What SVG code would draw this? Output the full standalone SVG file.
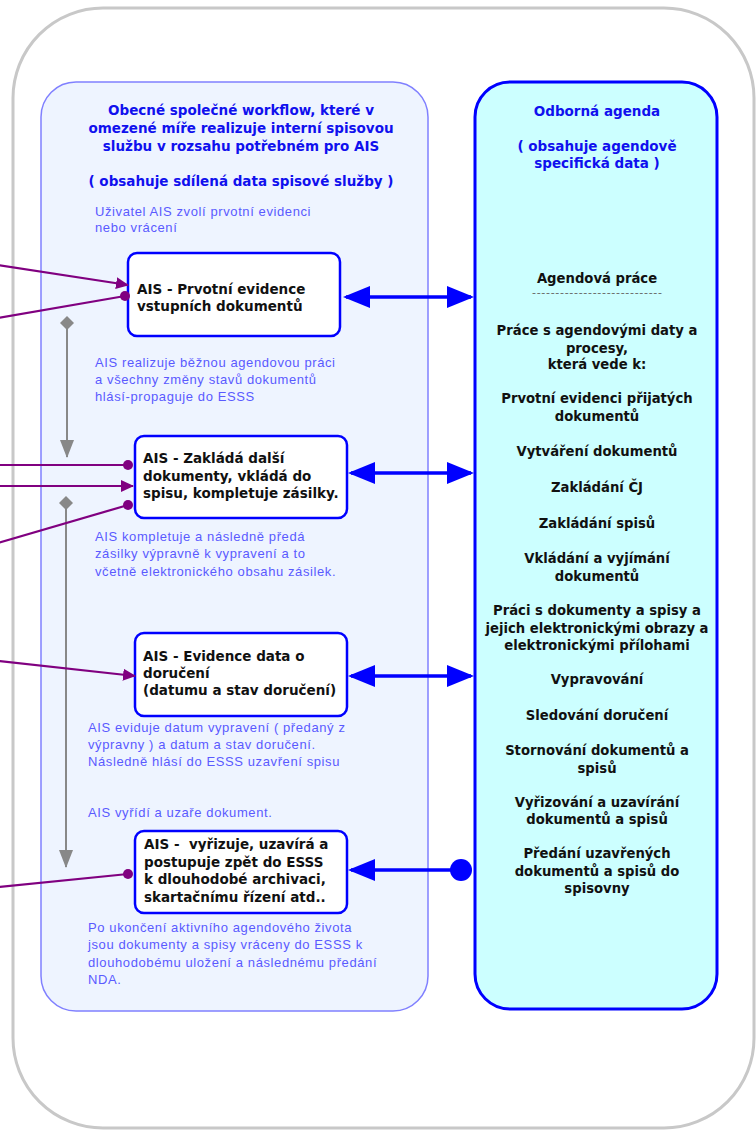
<svg xmlns="http://www.w3.org/2000/svg" width="756" height="1134" viewBox="0 0 756 1134">
<style>
.hb{font-family:"DejaVu Sans",sans-serif;font-weight:bold;font-size:13.5px;fill:#1010EE;text-anchor:middle}
.nt{font-family:"DejaVu Sans",sans-serif;font-weight:bold;font-size:13.5px;fill:#111}
.rt{font-family:"DejaVu Sans",sans-serif;font-weight:bold;font-size:13.2px;fill:#111;text-anchor:middle}
.note{font-family:"Liberation Sans",Arial,sans-serif;font-size:13px;letter-spacing:0.6px;fill:#5a5aff}
.box{fill:#fff;stroke:#0000FF;stroke-width:2.5}
.pl{stroke:#800080;stroke-width:2.2;fill:none}
.bl{stroke:#0000FF;stroke-width:3.5;fill:none}
.gl{stroke:#888;stroke-width:2;fill:none}
</style>
<defs>
<marker id="pa" markerUnits="userSpaceOnUse" viewBox="0 0 13 12" refX="12" refY="6" markerWidth="13" markerHeight="12" orient="auto"><path d="M0,0 L13,6 L0,12 z" fill="#800080"/></marker>
<marker id="pd" markerUnits="userSpaceOnUse" viewBox="0 0 10 10" refX="5" refY="5" markerWidth="10" markerHeight="10"><circle cx="5" cy="5" r="5" fill="#800080"/></marker>
<marker id="ba" markerUnits="userSpaceOnUse" viewBox="0 0 27 22" refX="24" refY="11" markerWidth="27" markerHeight="22" orient="auto-start-reverse"><path d="M0,0 L27,11 L0,22 z" fill="#0000FF"/></marker>
<marker id="ga" markerUnits="userSpaceOnUse" viewBox="0 0 18 14" refX="17" refY="7" markerWidth="18" markerHeight="14" orient="auto"><path d="M0,0 L18,7 L0,14 z" fill="#888"/></marker>
</defs>
<rect x="13" y="8" width="741" height="1120" rx="90" ry="90" fill="#fff" stroke="#c8c8c8" stroke-width="3"/>
<g id="panel-left">
<rect x="41" y="82" width="387" height="929" rx="35" ry="35" fill="#EEF4FF" stroke="#8080FF" stroke-width="1.5"/>
<text class="hb" x="241" y="115">Obecné společné workflow, které v</text>
<text class="hb" x="241" y="133">omezené míře realizuje interní spisovou</text>
<text class="hb" x="241" y="151">službu v rozsahu potřebném pro AIS</text>
<text class="hb" x="241" y="186">( obsahuje sdílená data spisové služby )</text>
<text class="note" x="95" y="216">Uživatel AIS zvolí prvotní evidenci</text>
<text class="note" x="95" y="232">nebo vrácení</text>
<text class="note" x="95" y="367">AIS realizuje běžnou agendovou práci</text>
<text class="note" x="95" y="384">a všechny změny stavů dokumentů</text>
<text class="note" x="95" y="401">hlásí-propaguje do ESSS</text>
<text class="note" x="95" y="541">AIS kompletuje a následně předá</text>
<text class="note" x="95" y="558">zásilky výpravně k vypravení a to</text>
<text class="note" x="95" y="576">včetně elektronického obsahu zásilek.</text>
<text class="note" x="88" y="732">AIS eviduje datum vypravení ( předaný z</text>
<text class="note" x="88" y="749">výpravny ) a datum a stav doručení.</text>
<text class="note" x="88" y="766">Následně hlásí do ESSS uzavření spisu</text>
<text class="note" x="88" y="817">AIS vyřídí a uzaře dokument.</text>
<text class="note" x="88" y="932">Po ukončení aktivního agendového života</text>
<text class="note" x="88" y="949">jsou dokumenty a spisy vráceny do ESSS k</text>
<text class="note" x="88" y="967">dlouhodobému uložení a následnému předání</text>
<text class="note" x="88" y="984">NDA.</text>
</g>
<g id="panel-right">
<rect x="475" y="82" width="242" height="927" rx="35" ry="35" fill="#CCFFFF" stroke="#0000FF" stroke-width="3"/>
<text class="hb" x="597" y="116">Odborná agenda</text>
<text class="hb" x="597" y="151">( obsahuje agendově</text>
<text class="hb" x="597" y="168">specifická data )</text>
<text class="rt" x="597" y="283">Agendová práce</text>
<text x="597" y="296" text-anchor="middle" font-family="DejaVu Sans,sans-serif" font-size="11" fill="#666" textLength="130" lengthAdjust="spacing">----------------------------</text>
<text class="rt" x="597" y="335">Práce s agendovými daty a</text>
<text class="rt" x="597" y="353">procesy,</text>
<text class="rt" x="597" y="369">která vede k:</text>
<text class="rt" x="597" y="403">Prvotní evidenci přijatých</text>
<text class="rt" x="597" y="421">dokumentů</text>
<text class="rt" x="597" y="456">Vytváření dokumentů</text>
<text class="rt" x="597" y="492">Zakládání ČJ</text>
<text class="rt" x="597" y="528">Zakládání spisů</text>
<text class="rt" x="597" y="563">Vkládání a vyjímání</text>
<text class="rt" x="597" y="581">dokumentů</text>
<text class="rt" x="597" y="615">Práci s dokumenty a spisy a</text>
<text class="rt" x="597" y="633">jejich elektronickými obrazy a</text>
<text class="rt" x="597" y="650">elektronickými přílohami</text>
<text class="rt" x="597" y="684">Vypravování</text>
<text class="rt" x="597" y="720">Sledování doručení</text>
<text class="rt" x="597" y="755">Stornování dokumentů a</text>
<text class="rt" x="597" y="773">spisů</text>
<text class="rt" x="597" y="807">Vyřizování a uzavírání</text>
<text class="rt" x="597" y="824">dokumentů a spisů</text>
<text class="rt" x="597" y="858">Předání uzavřených</text>
<text class="rt" x="597" y="876">dokumentů a spisů do</text>
<text class="rt" x="597" y="893">spisovny</text>
</g>
<g id="node-1">
<rect class="box" x="128" y="253" width="212" height="83" rx="9"/>
<text class="nt" x="137" y="294">AIS - Prvotní evidence</text>
<text class="nt" x="137" y="311">vstupních dokumentů</text>
</g>
<g id="node-2">
<rect class="box" x="135" y="436" width="212" height="82" rx="9"/>
<text class="nt" x="143" y="463">AIS - Zakládá další</text>
<text class="nt" x="143" y="481">dokumenty, vkládá do</text>
<text class="nt" x="143" y="498">spisu, kompletuje zásilky.</text>
</g>
<g id="node-3">
<rect class="box" x="135" y="633" width="212" height="83" rx="9"/>
<text class="nt" x="143" y="661">AIS - Evidence data o</text>
<text class="nt" x="143" y="678">doručení</text>
<text class="nt" x="143" y="695">(datumu a stav doručení)</text>
</g>
<g id="node-4">
<rect class="box" x="135" y="831" width="212" height="82" rx="9"/>
<text class="nt" x="144" y="849">AIS - &#160;vyřizuje, uzavírá a</text>
<text class="nt" x="144" y="867">postupuje zpět do ESSS</text>
<text class="nt" x="144" y="884">k dlouhodobé archivaci,</text>
<text class="nt" x="144" y="902">skartačnímu řízení atd..</text>
</g>
<g id="connectors">
<line class="gl" x1="67" y1="323" x2="67" y2="457" marker-end="url(#ga)"/>
<polygon points="67,316 74,323 67,330 60,323" fill="#888"/>
<line class="gl" x1="66" y1="503" x2="66" y2="867" marker-end="url(#ga)"/>
<polygon points="66,496 73,503 66,510 59,503" fill="#888"/>
<line class="pl" x1="-2" y1="265" x2="128" y2="285" marker-end="url(#pa)"/>
<line class="pl" x1="-2" y1="318" x2="125" y2="296" marker-end="url(#pd)"/>
<line class="pl" x1="-2" y1="465" x2="128" y2="465" marker-end="url(#pd)"/>
<line class="pl" x1="-2" y1="486" x2="133" y2="486" marker-end="url(#pa)"/>
<line class="pl" x1="-2" y1="543" x2="128" y2="505" marker-end="url(#pd)"/>
<line class="pl" x1="-2" y1="661" x2="135" y2="676" marker-end="url(#pa)"/>
<line class="pl" x1="-2" y1="887" x2="128" y2="874" marker-end="url(#pd)"/>
<line class="bl" x1="346" y1="297" x2="471" y2="297" marker-start="url(#ba)" marker-end="url(#ba)"/>
<line class="bl" x1="351" y1="473" x2="471" y2="473" marker-start="url(#ba)" marker-end="url(#ba)"/>
<line class="bl" x1="351" y1="676" x2="471" y2="676" marker-start="url(#ba)" marker-end="url(#ba)"/>
<line class="bl" x1="351" y1="870" x2="461" y2="870" marker-start="url(#ba)"/>
<circle cx="461" cy="870" r="11" fill="#0000FF"/>
</g>
</svg>
